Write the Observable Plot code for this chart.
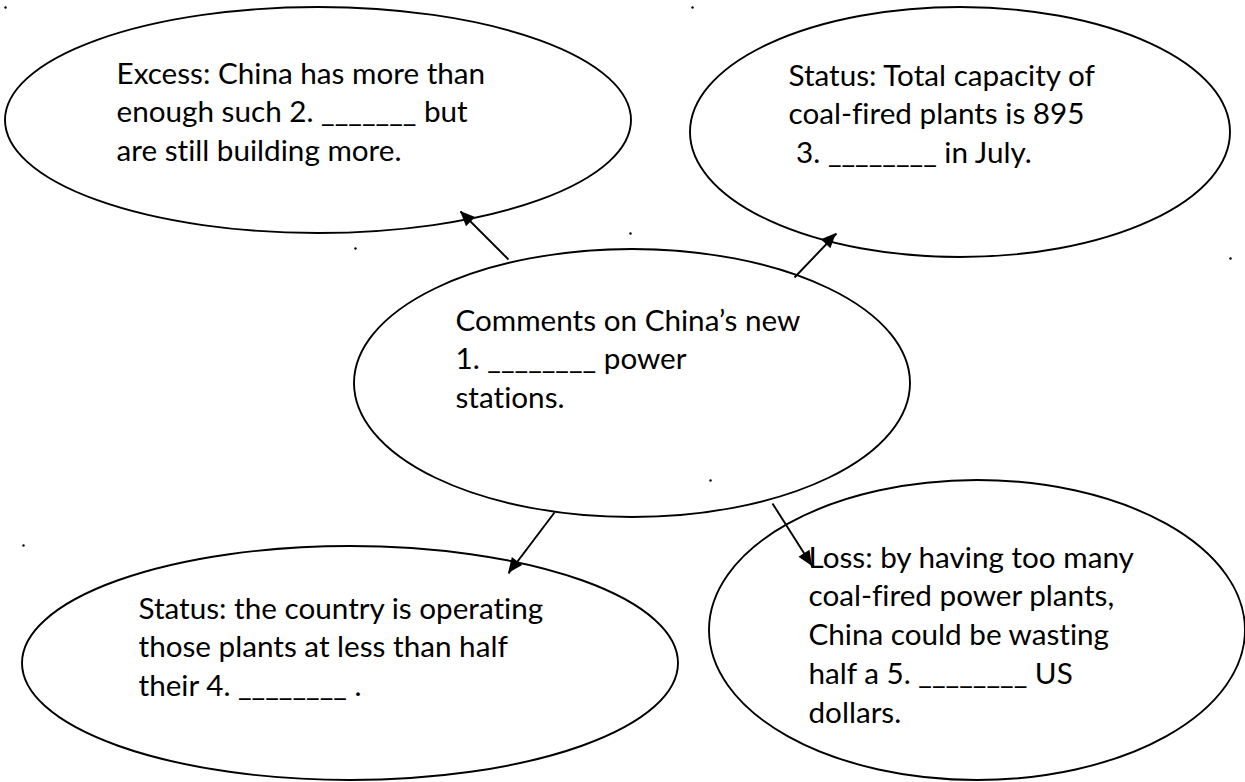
<!DOCTYPE html>
<html><head><meta charset="utf-8">
<script src="https://cdn.jsdelivr.net/npm/d3@7"></script>
<script src="https://cdn.jsdelivr.net/npm/@observablehq/plot@0.6"></script>
<style>
html,body{margin:0;padding:0;background:#fff;overflow:hidden;}
svg text{font-variant-ligatures:none;font-feature-settings:"liga" 0,"dlig" 0;}
</style>
</head><body><div id="chart"></div>
<script>
// Bubble outlines (centre and radii, page pixels)
const bubbleCx = [318, 960, 632, 350, 977];
const bubbleCy = [120, 132, 383, 663, 630];
const bubbleRx = [313, 270, 278, 328, 268];
const bubbleRy = [113, 125, 134, 117, 150];

// Bubble texts
const bubbleText = [
  "Excess: China has more than\nenough such 2. _______ but\nare still building more.",
  "Status: Total capacity of\ncoal-fired plants is 895\n\u00a03. ________ in July.",
  "Comments on China\u2019s new\n1. ________ power\nstations.",
  "Status: the country is operating\nthose plants at less than half\ntheir 4. ________ .",
  "Loss: by having too many\ncoal-fired power plants,\nChina could be wasting\nhalf a 5. ________ US\ndollars."
];
const textX = [116, 788, 455, 138, 808];
const textBaseline = [83, 85, 330, 618, 567];

// Arrows (tail -> head)
const arrowFromX = [508, 794, 554, 772];
const arrowFromY = [259, 277, 512, 503];
const arrowToX = [460, 836, 508, 812];
const arrowToY = [211, 233, 573, 566];

// Stray dots
const dotX = [5, 692, 355, 630, 1230, 710, 23];
const dotY = [7, 7, 248, 233, 258, 480, 545];

const W = 1245, H = 782;
const linePitch = 39;
const fontFamily = "Lato, Carlito, Calibri, sans-serif";

// fit font size so a reference line matches the reference width
const ctx = document.createElement("canvas").getContext("2d");
ctx.font = "100px Lato";
const refW = ctx.measureText("Comments on China\u2019s new").width;
const fs = Math.max(20, Math.min(36, 100 * 345 / refW));

const bubbles = bubbleCx.map((cx, i) => ({cx, cy: bubbleCy[i], rx: bubbleRx[i], ry: bubbleRy[i]}));
const labels = bubbleText.map((t, i) => ({text: t, x: textX[i], y: textBaseline[i] - 0.71 * linePitch}));
const arrows = arrowFromX.map((x1, i) => ({x1, y1: arrowFromY[i], x2: arrowToX[i], y2: arrowToY[i]}));
const dots = dotX.map((x, i) => ({x, y: dotY[i]}));

const ellipseMark = (index, {x, y}) => {
  const g = d3.create("svg:g").attr("fill", "none").attr("stroke", "black").attr("stroke-width", 1.9);
  g.selectAll("ellipse").data(bubbles).join("ellipse")
    .attr("cx", d => x(d.cx)).attr("cy", d => y(d.cy))
    .attr("rx", d => Math.abs(x(d.cx + d.rx) - x(d.cx)))
    .attr("ry", d => Math.abs(y(d.cy + d.ry) - y(d.cy)));
  return g.node();
};

const headMark = (index, {x, y}) => {
  const g = d3.create("svg:g").attr("fill", "black");
  arrows.forEach(a => {
    const x1 = x(a.x1), y1 = y(a.y1), x2 = x(a.x2), y2 = y(a.y2);
    const ang = Math.atan2(y2 - y1, x2 - x1);
    const L = 15, hw = 6.5;
    const bx = x2 - L * Math.cos(ang), by = y2 - L * Math.sin(ang);
    const px = -Math.sin(ang) * hw, py = Math.cos(ang) * hw;
    g.append("path").attr("d", `M${x2},${y2}L${bx + px},${by + py}L${bx - px},${by - py}Z`);
  });
  return g.node();
};

const chart = Plot.plot({
  width: W, height: H, margin: 0,
  style: {background: "#fff", fontFamily},
  x: {domain: [0, W], range: [0, W], axis: null},
  y: {domain: [0, H], range: [0, H], axis: null},
  marks: [
    ellipseMark,
    Plot.link(arrows, {x1: "x1", y1: "y1", x2: "x2", y2: "y2", stroke: "black", strokeWidth: 1.9}),
    headMark,
    Plot.dot(dots, {x: "x", y: "y", r: 1.2, fill: "black", stroke: null}),
    Plot.text(labels, {x: "x", y: "y", text: "text", textAnchor: "start", lineAnchor: "top",
      lineHeight: linePitch / fs, fontSize: fs, fill: "black", fontFamily})
  ]
});
document.getElementById("chart").appendChild(chart);
</script>
</body></html>
